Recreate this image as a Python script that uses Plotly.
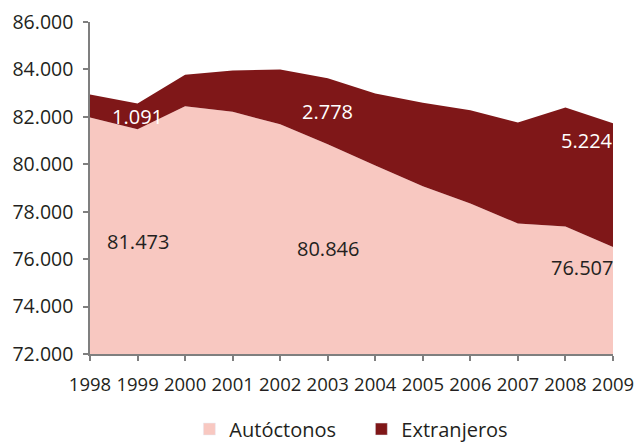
import plotly.graph_objects as go

years = [1998, 1999, 2000, 2001, 2002, 2003, 2004, 2005, 2006, 2007, 2008, 2009]
autoctonos = [81975, 81473, 82451, 82211, 81692, 80846, 79950, 79076, 78346, 77502, 77375, 76507]
extranjeros = [970, 1091, 1321, 1747, 2308, 2778, 3037, 3515, 3937, 4262, 5022, 5224]
y_ticks = [72000, 74000, 76000, 78000, 80000, 82000, 84000, 86000]

# labelled years: (index, y-position for autóctonos label, y-position for extranjeros label, xanchor)
label_points = [(1, 76726, 82000, "center"), (5, 76447, 82241, "center"), (11, 75629, 81017, "right")]

total = [a + e for a, e in zip(autoctonos, extranjeros)]

def fmt(v):
    return f"{v:,}".replace(",", ".")

C_AUT = "#F8C8C1"
C_EXT = "#7F1718"
TXT = "#231F20"
FONT = "Open Sans"

fig = go.Figure()
fig.add_trace(go.Scatter(x=years, y=autoctonos, mode="lines", fill="tozeroy",
                         fillcolor=C_AUT, line=dict(width=0, color=C_AUT), showlegend=False,
                         hoverinfo="skip"))
fig.add_trace(go.Scatter(x=years, y=total, mode="lines", fill="tonexty",
                         fillcolor=C_EXT, line=dict(width=0, color=C_EXT), showlegend=False,
                         hoverinfo="skip"))
# legend entries
fig.add_trace(go.Bar(x=[None], y=[None], name="Autóctonos", marker_color=C_AUT))
fig.add_trace(go.Bar(x=[None], y=[None], name="Extranjeros", marker_color=C_EXT))

for idx, ya, ye, anchor in label_points:
    fig.add_annotation(x=years[idx], y=ya, text=fmt(autoctonos[idx]), showarrow=False,
                       xanchor=anchor, yanchor="middle", xshift=(2 if anchor == "right" else 0),
                       font=dict(size=20, color=TXT, family=FONT))
    fig.add_annotation(x=years[idx], y=ye, text=fmt(extranjeros[idx]), showarrow=False,
                       xanchor=anchor, yanchor="middle", xshift=(2 if anchor == "right" else 0),
                       font=dict(size=20, color="white", family=FONT))

fig.update_layout(
    width=635, height=443,
    margin=dict(l=90, r=22, t=22, b=89, autoexpand=False),
    paper_bgcolor="white", plot_bgcolor="white",
    font=dict(family=FONT, size=19, color=TXT),
    showlegend=True,
    legend=dict(orientation="h", x=0.19, xanchor="left", y=-0.226, yanchor="middle",
                entrywidth=127, entrywidthmode="pixels",
                font=dict(size=20, color=TXT, family=FONT), traceorder="normal"),
    xaxis=dict(range=[1998, 2009], tickmode="array", tickvals=years, automargin=False,
               ticktext=[str(y) for y in years], showgrid=False, zeroline=False,
               showline=True, linecolor="#7f7f7f", linewidth=1.5,
               ticks="outside", ticklen=5, tickcolor="#7f7f7f", tickwidth=1.5,
               ticklabelstandoff=8,
               tickfont=dict(size=18.5, color=TXT, family=FONT)),
    yaxis=dict(range=[72000, 86000], tickmode="array", tickvals=y_ticks, automargin=False,
               ticktext=[fmt(v) for v in y_ticks], showgrid=False, zeroline=False,
               showline=True, linecolor="#7f7f7f", linewidth=1.5,
               ticks="outside", ticklen=5, tickcolor="#7f7f7f", tickwidth=1.5,
               ticklabelstandoff=6,
               tickfont=dict(size=19.5, color=TXT, family=FONT)),
)

# remove the default 8px page margin so the figure fills the window exactly
fig.write_html("out.html", config={"displayModeBar": False},
               post_script="document.body.style.margin='0';")
